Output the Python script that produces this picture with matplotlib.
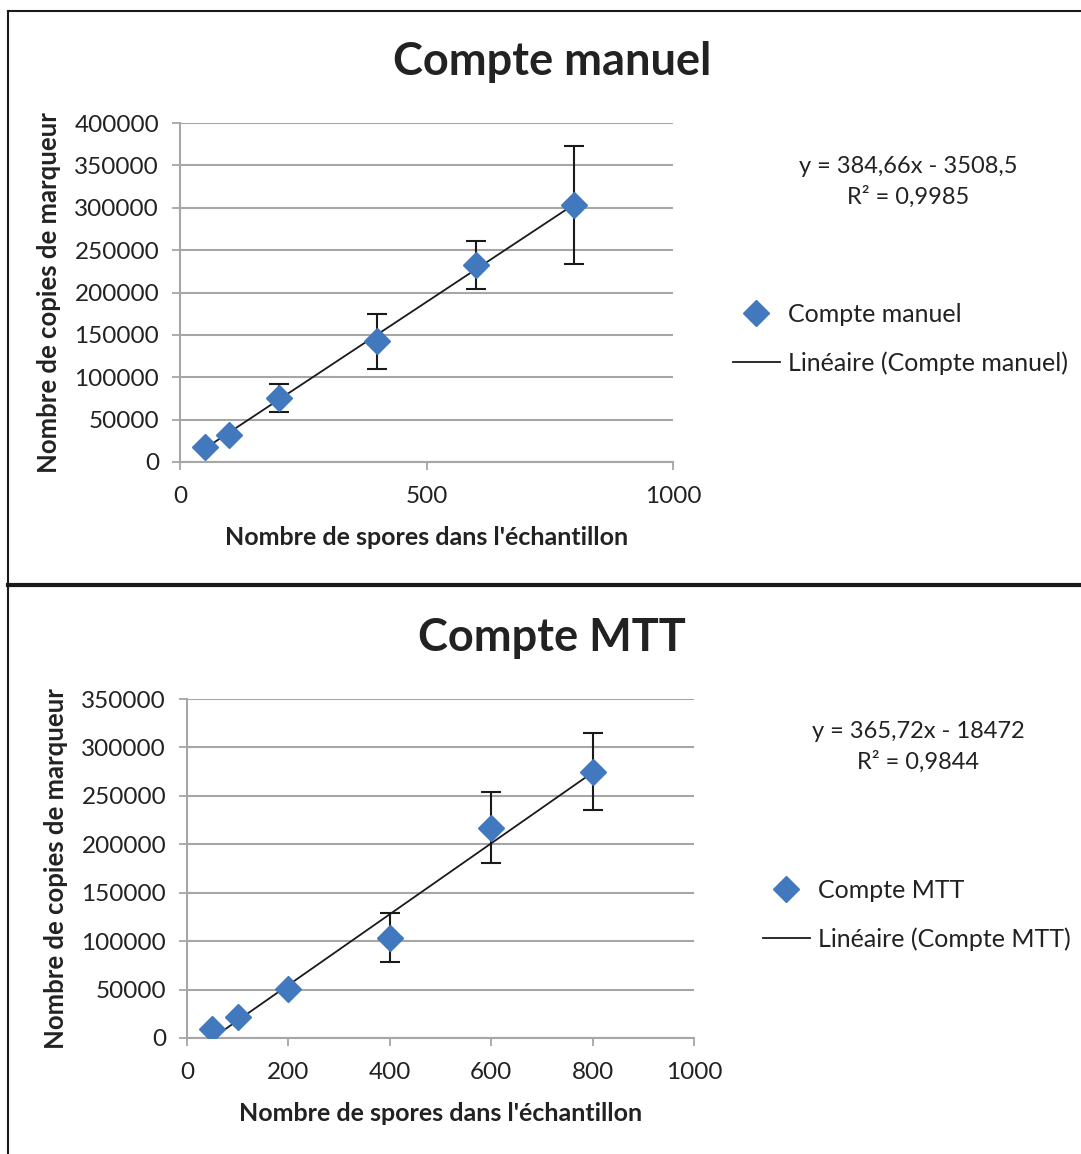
import matplotlib
matplotlib.use("Agg")
import matplotlib.pyplot as plt
from matplotlib.lines import Line2D
import numpy as np

plt.rcParams['font.family'] = ['Lato', 'DejaVu Sans']

# spores per sample
x = [50, 100, 200, 400, 600, 800]

# Compte manuel
man_y   = [18000, 32000, 75500, 142500, 232500, 303500]
man_err = [0, 0, 17000, 32500, 28500, 69500]
man_fit = (384.66, -3508.5)
man_eq  = "y = 384,66x - 3508,5\nR² = 0,9985"

# Compte MTT
mtt_y   = [8800, 21500, 50300, 103500, 217000, 275000]
mtt_err = [0, 0, 0, 25500, 36500, 40000]
mtt_fit = (365.72, -18472)
mtt_eq  = "y = 365,72x - 18472\nR² = 0,9844"

blue = '#4279BE'
txt = '#222222'
grid = '#A6A6A6'

fig = plt.figure(figsize=(10.81, 11.54), dpi=100)

def panel(rect, title, title_xy, ys, errs, fit, eq, eq_xy, leg_xy, name,
          ymax, xstep):
    ax = fig.add_axes(rect)
    ax.errorbar(x, ys, yerr=errs, fmt='none', ecolor='#1a1a1a',
                elinewidth=1.5, capsize=7, capthick=1.5, zorder=3)
    xs = np.array([min(x), max(x)])
    line, = ax.plot(xs, fit[0] * xs + fit[1], color='#1a1a1a', lw=1.3, zorder=4)
    pts, = ax.plot(x, ys, 'D', color=blue, markersize=13, zorder=5,
                   linestyle='none')
    ax.set_xlim(0, 1000)
    ax.set_ylim(0, ymax)
    ax.set_xticks(np.arange(0, 1001, xstep))
    ax.set_yticks(np.arange(0, ymax + 1, 50000))
    ax.ticklabel_format(style='plain', useOffset=False)
    ax.grid(axis='y', color=grid, lw=1.5)
    ax.set_axisbelow(True)
    for s in ('top', 'right'):
        ax.spines[s].set_visible(False)
    for s in ('left', 'bottom'):
        ax.spines[s].set_color(grid)
        ax.spines[s].set_linewidth(1.5)
    ax.tick_params(colors=grid, labelcolor=txt, labelsize=17.5, length=6,
                   width=1.3, direction='out')
    ax.tick_params(axis='y', pad=9)
    ax.tick_params(axis='x', pad=11)
    ax.set_xlabel("Nombre de spores dans l'échantillon", fontsize=18,
                  fontweight='bold', color=txt, labelpad=14)
    ax.set_ylabel("Nombre de copies de marqueur", fontsize=18.5,
                  fontweight='bold', color=txt, labelpad=10)
    fig.text(title_xy[0], title_xy[1], title, fontsize=32.5, fontweight='bold',
             color=txt, ha='center', va='center')
    fig.text(eq_xy[0], eq_xy[1], eq, fontsize=17, color=txt, ha='center',
             va='center', linespacing=1.5)
    fig.legend([pts, line], [name, "Linéaire (%s)" % name], loc='center left',
               bbox_to_anchor=leg_xy, frameon=False, fontsize=18,
               handlelength=1.9, handletextpad=0.3, labelspacing=1.0,
               labelcolor=txt)
    return ax

panel([180 / 1081, 1 - 462 / 1154, 493 / 1081, 339 / 1154], "Compte manuel",
      (552 / 1081, 1 - 62 / 1154), man_y, man_err, man_fit, man_eq,
      (908 / 1081, 1 - 182 / 1154), (710 / 1081, 1 - 339 / 1154),
      "Compte manuel", 400000, 500)

panel([187 / 1081, 1 - 1038 / 1154, 507 / 1081, 339 / 1154], "Compte MTT",
      (552 / 1081, 1 - 638 / 1154), mtt_y, mtt_err, mtt_fit, mtt_eq,
      (918 / 1081, 1 - 747 / 1154), (740 / 1081, 1 - 915 / 1154),
      "Compte MTT", 350000, 200)

# frame lines around the two chart blocks
fig.add_artist(Line2D([8 / 1081, 1], [1 - 11 / 1154] * 2, color='#1a1a1a', lw=1.5))
fig.add_artist(Line2D([8 / 1081] * 2, [0, 1 - 11 / 1154], color='#1a1a1a', lw=1.5))
fig.add_artist(Line2D([8 / 1081, 1], [1 - 585 / 1154] * 2, color='#1a1a1a', lw=3))

fig.savefig('out.png', dpi=100, facecolor='white')
